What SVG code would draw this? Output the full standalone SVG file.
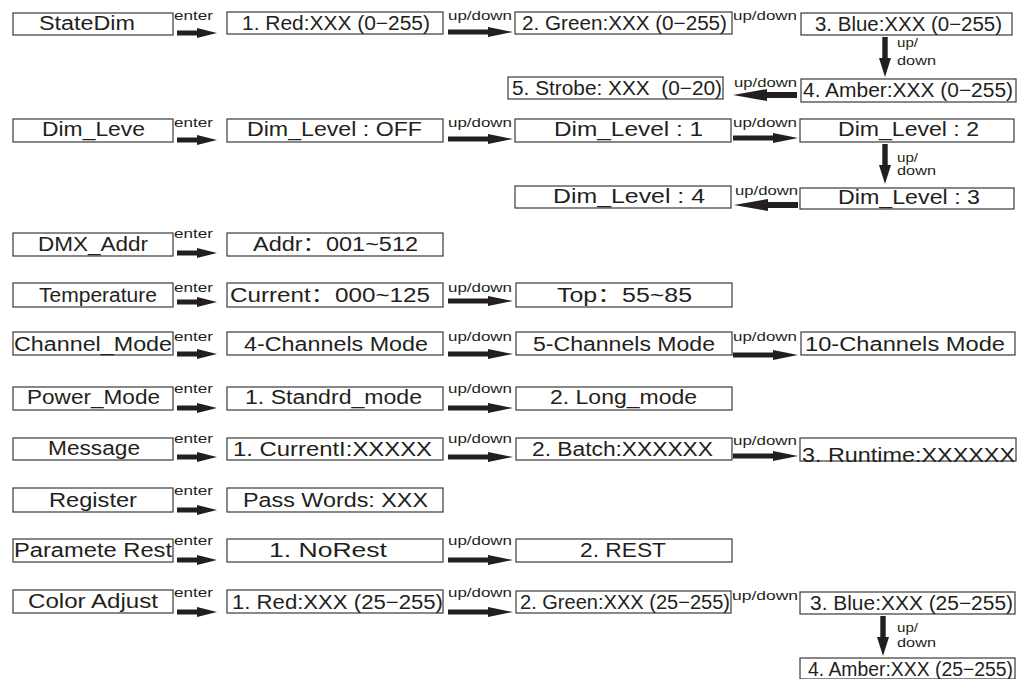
<svg xmlns="http://www.w3.org/2000/svg" width="1018" height="679" viewBox="0 0 1018 679">
<style>
  .box{fill:#fff;stroke:#3a3a3a;stroke-width:1.2}
  .t{font-family:"Liberation Sans",Arial,"Noto Sans CJK SC",sans-serif;font-size:20px;fill:#231f20}
  .s{font-family:"Liberation Sans",Arial,sans-serif;font-size:12.5px;fill:#231f20}
  .ar{fill:#231f20}
</style>
<defs>
  <path id="aE" d="M0,-2.5 H20 V-5 L40,0 L20,5 V2.5 H0 Z"/>
  <path id="aR" d="M0,-2.5 H40 V-5 L65,0 L40,5 V2.5 H0 Z"/>
  <path id="aL" d="M0,-3 H-30 V-6 L-64,0 L-30,6 V3 H0 Z"/>
  <path id="aD" d="M-2.7,0 V21 H-6 L0,40 L6,21 H2.7 V0 Z"/>
</defs>
<rect width="1018" height="679" fill="#fff"/>

<!-- Row 1 -->
<g id="n-statedim"><rect class="box" x="13" y="13" width="160" height="22"/><text class="t" x="39" y="30" textLength="96" lengthAdjust="spacingAndGlyphs">StateDim</text></g>
<g id="n-red"><rect class="box" x="227" y="12" width="216" height="22"/><text class="t" x="242" y="30" textLength="188" lengthAdjust="spacingAndGlyphs">1. Red:XXX (0−255)</text></g>
<g id="n-green"><rect class="box" x="515" y="12" width="217" height="22"/><text class="t" x="522" y="30" textLength="205" lengthAdjust="spacingAndGlyphs">2. Green:XXX (0−255)</text></g>
<g id="n-blue"><rect class="box" x="801" y="13" width="211" height="22"/><text class="t" x="815" y="31" textLength="187" lengthAdjust="spacingAndGlyphs">3. Blue:XXX (0−255)</text></g>
<g id="n-amber"><rect class="box" x="801" y="79" width="215" height="23"/><text class="t" x="803" y="97" textLength="210" lengthAdjust="spacingAndGlyphs">4. Amber:XXX (0−255)</text></g>
<g id="n-strobe"><rect class="box" x="508" y="77" width="215" height="22"/><text class="t" x="512" y="95" textLength="210" lengthAdjust="spacingAndGlyphs" xml:space="preserve">5. Strobe: XXX  (0−20)</text></g>

<!-- Row 2 -->
<g id="n-dimleve"><rect class="box" x="13" y="119" width="160" height="23"/><text class="t" x="42" y="136" textLength="103" lengthAdjust="spacingAndGlyphs">Dim_Leve</text></g>
<g id="n-dimoff"><rect class="box" x="227" y="119" width="216" height="23"/><text class="t" x="247" y="136" textLength="175" lengthAdjust="spacingAndGlyphs">Dim_Level : OFF</text></g>
<g id="n-dim1"><rect class="box" x="515" y="119" width="216" height="23"/><text class="t" x="554" y="136" textLength="149" lengthAdjust="spacingAndGlyphs">Dim_Level : 1</text></g>
<g id="n-dim2"><rect class="box" x="800" y="119" width="214" height="23"/><text class="t" x="838" y="136" textLength="141" lengthAdjust="spacingAndGlyphs">Dim_Level : 2</text></g>
<g id="n-dim3"><rect class="box" x="800" y="188" width="214" height="21"/><text class="t" x="838" y="204" textLength="142" lengthAdjust="spacingAndGlyphs">Dim_Level : 3</text></g>
<g id="n-dim4"><rect class="box" x="515" y="186" width="216" height="22"/><text class="t" x="553" y="203" textLength="152" lengthAdjust="spacingAndGlyphs">Dim_Level : 4</text></g>

<!-- Row 3 -->
<g id="n-dmx"><rect class="box" x="13" y="233" width="160" height="23"/><text class="t" x="38" y="251" textLength="110" lengthAdjust="spacingAndGlyphs">DMX_Addr</text></g>
<g id="n-addr"><rect class="box" x="227" y="233" width="216" height="23"/><text class="t" x="253" y="251" textLength="165" lengthAdjust="spacingAndGlyphs">Addr：001~512</text></g>

<!-- Row 4 -->
<g id="n-temp"><rect class="box" x="13" y="283" width="160" height="24"/><text class="t" x="39" y="302" textLength="118" lengthAdjust="spacingAndGlyphs">Temperature</text></g>
<g id="n-current"><rect class="box" x="227" y="283" width="216" height="24"/><text class="t" x="230" y="302" textLength="200" lengthAdjust="spacingAndGlyphs">Current：000~125</text></g>
<g id="n-top"><rect class="box" x="516" y="283" width="216" height="24"/><text class="t" x="557" y="302" textLength="135" lengthAdjust="spacingAndGlyphs">Top：55~85</text></g>

<!-- Row 5 -->
<g id="n-chmode"><rect class="box" x="13" y="332" width="160" height="23"/><text class="t" x="14" y="351" textLength="158" lengthAdjust="spacingAndGlyphs">Channel_Mode</text></g>
<g id="n-ch4"><rect class="box" x="227" y="332" width="216" height="23"/><text class="t" x="244" y="351" textLength="184" lengthAdjust="spacingAndGlyphs">4-Channels Mode</text></g>
<g id="n-ch5"><rect class="box" x="516" y="332" width="216" height="23"/><text class="t" x="533" y="351" textLength="182" lengthAdjust="spacingAndGlyphs">5-Channels Mode</text></g>
<g id="n-ch10"><rect class="box" x="801" y="332" width="214" height="23"/><text class="t" x="805" y="351" textLength="200" lengthAdjust="spacingAndGlyphs">10-Channels Mode</text></g>

<!-- Row 6 -->
<g id="n-power"><rect class="box" x="13" y="387" width="160" height="23"/><text class="t" x="27" y="404" textLength="133" lengthAdjust="spacingAndGlyphs">Power_Mode</text></g>
<g id="n-std"><rect class="box" x="227" y="387" width="216" height="23"/><text class="t" x="245" y="404" textLength="177" lengthAdjust="spacingAndGlyphs">1. Standrd_mode</text></g>
<g id="n-long"><rect class="box" x="516" y="387" width="216" height="23"/><text class="t" x="550" y="404" textLength="147" lengthAdjust="spacingAndGlyphs">2. Long_mode</text></g>

<!-- Row 7 -->
<g id="n-message"><rect class="box" x="13" y="438" width="160" height="22"/><text class="t" x="48" y="455" textLength="92" lengthAdjust="spacingAndGlyphs">Message</text></g>
<g id="n-currenti"><rect class="box" x="227" y="438" width="216" height="22"/><text class="t" x="233" y="456" textLength="199" lengthAdjust="spacingAndGlyphs">1. CurrentI:XXXXX</text></g>
<g id="n-batch"><rect class="box" x="516" y="438" width="216" height="22"/><text class="t" x="532" y="456" textLength="181" lengthAdjust="spacingAndGlyphs">2. Batch:XXXXXX</text></g>
<g id="n-runtime"><rect class="box" x="800" y="438" width="216" height="23"/><text class="t" x="802" y="462" textLength="213" lengthAdjust="spacingAndGlyphs">3. Runtime:XXXXXX</text></g>

<!-- Row 8 -->
<g id="n-register"><rect class="box" x="13" y="488" width="160" height="24"/><text class="t" x="49" y="507" textLength="88" lengthAdjust="spacingAndGlyphs">Register</text></g>
<g id="n-pass"><rect class="box" x="227" y="488" width="216" height="24"/><text class="t" x="243" y="507" textLength="185" lengthAdjust="spacingAndGlyphs">Pass Words: XXX</text></g>

<!-- Row 9 -->
<g id="n-param"><rect class="box" x="13" y="539" width="160" height="23"/><text class="t" x="14" y="557" textLength="158" lengthAdjust="spacingAndGlyphs">Paramete Rest</text></g>
<g id="n-norest"><rect class="box" x="227" y="539" width="216" height="23"/><text class="t" x="269" y="557" textLength="118" lengthAdjust="spacingAndGlyphs">1. NoRest</text></g>
<g id="n-rest"><rect class="box" x="516" y="539" width="216" height="23"/><text class="t" x="580" y="557" textLength="86" lengthAdjust="spacingAndGlyphs">2. REST</text></g>

<!-- Row 10 -->
<g id="n-color"><rect class="box" x="13" y="590" width="160" height="23"/><text class="t" x="28" y="608" textLength="130" lengthAdjust="spacingAndGlyphs">Color Adjust</text></g>
<g id="n-cred"><rect class="box" x="227" y="590" width="216" height="23"/><text class="t" x="232" y="609" textLength="211" lengthAdjust="spacingAndGlyphs">1. Red:XXX (25−255)</text></g>
<g id="n-cgreen"><rect class="box" x="516" y="591" width="215" height="22"/><text class="t" x="520" y="609" textLength="210" lengthAdjust="spacingAndGlyphs">2. Green:XXX (25−255)</text></g>
<g id="n-cblue"><rect class="box" x="800" y="592" width="215" height="22"/><text class="t" x="810" y="610" textLength="203" lengthAdjust="spacingAndGlyphs">3. Blue:XXX (25−255)</text></g>
<g id="n-camber"><rect class="box" x="800" y="658" width="215" height="21"/><text class="t" x="808" y="676" textLength="205" lengthAdjust="spacingAndGlyphs">4. Amber:XXX (25−255)</text></g>

<g id="connectors">
  <!-- enter arrows -->
  <g class="ar">
    <use href="#aE" x="177" y="33"/>
    <use href="#aE" x="177" y="140"/>
    <use href="#aE" x="177" y="253"/>
    <use href="#aE" x="177" y="302"/>
    <use href="#aE" x="177" y="354"/>
    <use href="#aE" x="177" y="408"/>
    <use href="#aE" x="177" y="457"/>
    <use href="#aE" x="177" y="510"/>
    <use href="#aE" x="177" y="560"/>
    <use href="#aE" x="177" y="612"/>
    <!-- up/down right -->
    <use href="#aR" x="448" y="32"/>
    <use href="#aR" x="448" y="139"/>
    <use href="#aR" x="733" y="138"/>
    <use href="#aR" x="448" y="301"/>
    <use href="#aR" x="448" y="354"/>
    <use href="#aR" x="733" y="355"/>
    <use href="#aR" x="448" y="408"/>
    <use href="#aR" x="448" y="457"/>
    <use href="#aR" x="733" y="456"/>
    <use href="#aR" x="448" y="560"/>
    <use href="#aR" x="448" y="612"/>
    <!-- left -->
    <use href="#aL" x="797" y="95"/>
    <use href="#aL" x="798" y="205"/>
    <!-- down -->
    <use href="#aD" x="885" y="37"/>
    <use href="#aD" x="885" y="144"/>
    <use href="#aD" x="883" y="616"/>
  </g>
  <g class="s">
    <text x="174" y="20" textLength="39" lengthAdjust="spacingAndGlyphs">enter</text>
    <text x="174" y="127" textLength="39" lengthAdjust="spacingAndGlyphs">enter</text>
    <text x="174" y="238" textLength="39" lengthAdjust="spacingAndGlyphs">enter</text>
    <text x="174" y="292" textLength="39" lengthAdjust="spacingAndGlyphs">enter</text>
    <text x="174" y="341" textLength="39" lengthAdjust="spacingAndGlyphs">enter</text>
    <text x="174" y="393" textLength="39" lengthAdjust="spacingAndGlyphs">enter</text>
    <text x="174" y="443" textLength="39" lengthAdjust="spacingAndGlyphs">enter</text>
    <text x="174" y="495" textLength="39" lengthAdjust="spacingAndGlyphs">enter</text>
    <text x="174" y="545" textLength="39" lengthAdjust="spacingAndGlyphs">enter</text>
    <text x="174" y="597" textLength="39" lengthAdjust="spacingAndGlyphs">enter</text>

    <text x="448" y="20" textLength="64" lengthAdjust="spacingAndGlyphs">up/down</text>
    <text x="733" y="20" textLength="64" lengthAdjust="spacingAndGlyphs">up/down</text>
    <text x="734" y="87" textLength="63" lengthAdjust="spacingAndGlyphs">up/down</text>
    <text x="448" y="127" textLength="64" lengthAdjust="spacingAndGlyphs">up/down</text>
    <text x="733" y="127" textLength="64" lengthAdjust="spacingAndGlyphs">up/down</text>
    <text x="735" y="195" textLength="63" lengthAdjust="spacingAndGlyphs">up/down</text>
    <text x="448" y="292" textLength="64" lengthAdjust="spacingAndGlyphs">up/down</text>
    <text x="448" y="341" textLength="64" lengthAdjust="spacingAndGlyphs">up/down</text>
    <text x="733" y="341" textLength="64" lengthAdjust="spacingAndGlyphs">up/down</text>
    <text x="448" y="393" textLength="64" lengthAdjust="spacingAndGlyphs">up/down</text>
    <text x="448" y="443" textLength="64" lengthAdjust="spacingAndGlyphs">up/down</text>
    <text x="733" y="445" textLength="64" lengthAdjust="spacingAndGlyphs">up/down</text>
    <text x="448" y="545" textLength="64" lengthAdjust="spacingAndGlyphs">up/down</text>
    <text x="448" y="597" textLength="64" lengthAdjust="spacingAndGlyphs">up/down</text>
    <text x="732" y="600" textLength="66" lengthAdjust="spacingAndGlyphs">up/down</text>

    <text x="897" y="47" textLength="21" lengthAdjust="spacingAndGlyphs">up/</text>
    <text x="897" y="65" textLength="39" lengthAdjust="spacingAndGlyphs">down</text>
    <text x="897" y="162" textLength="21" lengthAdjust="spacingAndGlyphs">up/</text>
    <text x="897" y="175" textLength="39" lengthAdjust="spacingAndGlyphs">down</text>
    <text x="897" y="632" textLength="21" lengthAdjust="spacingAndGlyphs">up/</text>
    <text x="897" y="647" textLength="39" lengthAdjust="spacingAndGlyphs">down</text>
  </g>
</g>
</svg>
